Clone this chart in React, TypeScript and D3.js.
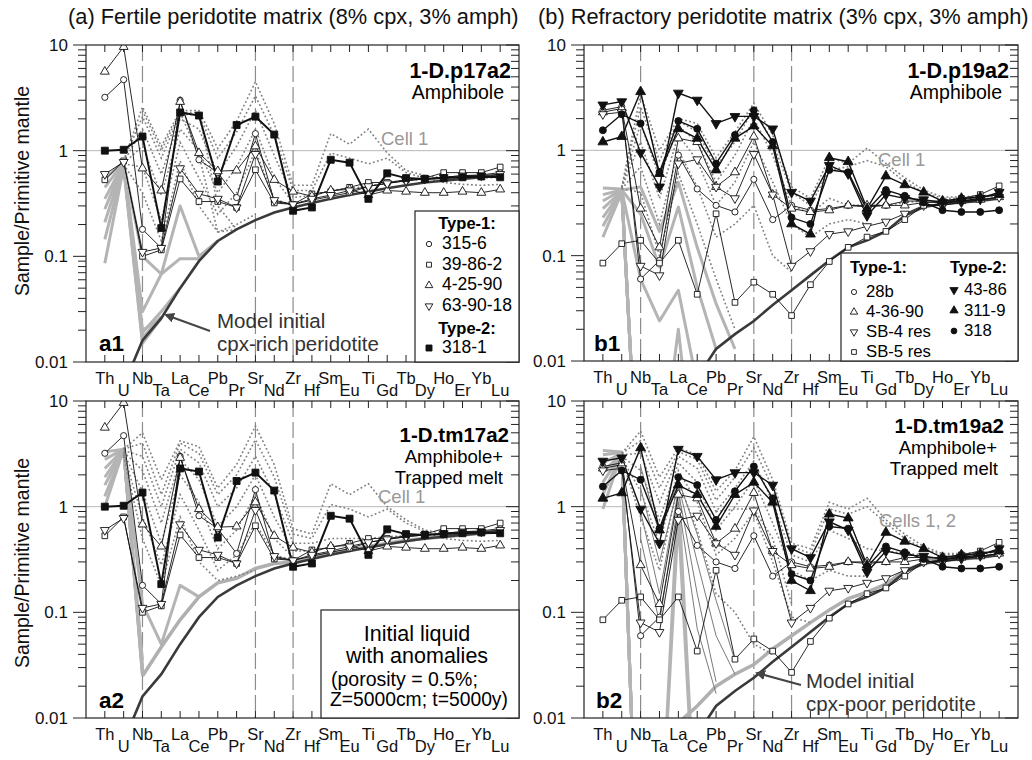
import * as React from 'react'
import * as d3 from 'd3'

const _ = null
type Row = (number | null)[]
type Shape = 'circle' | 'square' | 'triUp' | 'triDown'
type Sample = { name: string; values: Row; shape: Shape; filled: boolean; width: number }

const elements = ['Th', 'U', 'Nb', 'Ta', 'La', 'Ce', 'Pb', 'Pr', 'Sr', 'Nd', 'Zr', 'Hf', 'Sm', 'Eu', 'Ti', 'Gd', 'Tb', 'Dy', 'Ho', 'Er', 'Yb', 'Lu']
const dashedElements = ['Nb', 'Sr', 'Zr']
const yMajor = [0.01, 0.1, 1, 10]
const yMajorLabels = ['0.01', '0.1', '1', '10']

// ---- samples, panel (a)
const s315_6: Row = [3.2, 4.7, 0.18, 0.12, 3.0, 0.82, 0.62, 0.36, 1.45, 0.33, 0.31, 0.34, 0.37, 0.4, 0.46, 0.49, 0.52, 0.54, 0.56, 0.58, 0.59, 0.62]
const s39_86_2: Row = [0.53, 0.8, 0.1, 0.115, 0.54, 0.33, 0.33, 0.29, 0.66, 0.32, 0.31, 0.39, 0.41, 0.45, 0.5, 0.5, 0.53, 0.55, 0.62, 0.62, 0.62, 0.7]
const s4_25_90: Row = [5.6, 9.6, 0.68, 0.42, 2.9, 0.95, 0.64, 0.65, 1.1, 0.53, 0.41, 0.37, 0.42, 0.43, 0.38, 0.42, 0.41, 0.4, 0.4, 0.41, 0.4, 0.43]
const s63_90_18: Row = [0.6, 0.78, 0.11, 0.12, 0.68, 0.39, 0.35, 0.29, 0.93, 0.34, 0.31, 0.35, 0.38, 0.42, 0.46, 0.49, 0.52, 0.54, 0.56, 0.58, 0.58, 0.6]
const s318_1: Row = [1.0, 1.02, 1.36, 0.185, 2.3, 2.15, 0.51, 1.75, 2.1, 1.42, 0.27, 0.29, 0.82, 0.77, 0.35, 0.61, 0.55, 0.54, 0.55, 0.56, 0.57, 0.56]

// ---- samples, panel (b)
const s28b: Row = [2.4, 2.6, 0.06, 0.09, 0.9, 0.43, 0.3, 0.26, 0.53, 0.22, 0.3, 0.27, 0.28, 0.3, 0.29, 0.3, 0.33, 0.33, 0.33, 0.34, 0.36, 0.38]
const s4_36_90: Row = [2.3, 2.5, 0.28, 0.12, 1.3, 1.2, 0.45, 0.62, 1.35, 0.38, 0.28, 0.26, 0.27, 0.3, 0.3, 0.3, 0.3, 0.32, 0.32, 0.33, 0.34, 0.36]
const sSB4: Row = [2.2, 2.3, 0.08, 0.065, 0.75, 0.82, 0.45, 0.35, 0.92, 0.38, 0.08, 0.11, 0.16, 0.17, 0.19, 0.21, 0.25, 0.3, 0.3, 0.32, 0.34, 0.36]
const sSB5: Row = [0.085, 0.13, 0.14, 0.085, 0.14, 0.043, 0.25, 0.036, 0.056, 0.043, 0.027, 0.053, 0.088, 0.12, 0.15, 0.17, 0.22, 0.3, 0.31, 0.35, 0.38, 0.46]
const s43_86: Row = [2.7, 2.9, 0.95, 0.45, 3.5, 3.0, 1.8, 2.1, 2.1, 1.6, 0.4, 0.33, 0.72, 0.6, 0.24, 0.38, 0.35, 0.34, 0.32, 0.33, 0.35, 0.4]
const s311_9: Row = [1.2, 1.35, 3.6, 0.6, 1.6, 1.3, 0.65, 1.3, 1.7, 1.1, 0.2, 0.16, 0.85, 0.78, 0.28, 0.57, 0.47, 0.4, 0.33, 0.35, 0.36, 0.38]
const s318: Row = [1.55, 2.2, 1.8, 0.62, 1.9, 1.6, 0.75, 1.4, 2.4, 1.2, 0.23, 0.2, 0.65, 0.62, 0.27, 0.42, 0.37, 0.32, 0.27, 0.26, 0.26, 0.27]

// ---- model curves
const modelA: Row = [0.002, 0.006, 0.016, 0.026, 0.05, 0.09, 0.14, 0.18, 0.22, 0.26, 0.29, 0.32, 0.35, 0.38, 0.41, 0.44, 0.47, 0.5, 0.52, 0.54, 0.56, 0.58]
const modelA2light: Row = [_, _, 0.025, 0.047, 0.085, 0.14, 0.19, 0.21, 0.26, 0.29, 0.3, 0.33, 0.36, 0.39, 0.42, 0.45, 0.48, 0.5, 0.52, 0.54, 0.56, 0.58]
const modelB: Row = [0.0003, 0.0006, 0.001, 0.002, 0.004, 0.007, 0.013, 0.018, 0.024, 0.034, 0.047, 0.065, 0.09, 0.12, 0.14, 0.17, 0.24, 0.29, 0.31, 0.32, 0.33, 0.35]
const modelB2light: Row = [_, _, _, _, 0.009, 0.013, 0.02, 0.026, 0.032, 0.045, 0.06, 0.08, 0.105, 0.135, 0.155, 0.185, 0.25, 0.29, 0.31, 0.32, 0.33, 0.35]

const grayA1: Row[] = [
  [0.086, 0.7, 0.015, 0.026],
  [0.145, 0.72, 0.016, 0.026],
  [0.21, 0.74, 0.017, 0.027],
  [0.28, 0.75, 0.019, 0.03, 0.05],
  [0.35, 0.76, 0.03, 0.068, 0.095, 0.095, 0.14],
  [0.45, 0.77, 0.1, 0.068, 0.3, 0.1, 0.14],
  [0.54, 0.78, 0.02, 0.026],
]
const dottedA1: Row[] = [
  [_, 0.8, 2.6, 1.1, 2.4, 2.4, 1.05, 1.9, 4.5, 1.8, 0.47, 0.47, 1.45, 1.15, 1.6, 0.95, 0.65, 0.58, 0.55, 0.55, 0.55, 0.56],
  [_, 0.8, 2.1, 0.85, 2.2, 2.2, 0.85, 1.5, 3.3, 1.4, 0.42, 0.42, 0.95, 0.85, 0.75, 0.85, 0.62, 0.55, 0.5, 0.48, 0.47, 0.48],
  [_, 0.78, 1.6, 0.6, 2.0, 1.6, 0.6, 1.1, 2.4, 0.9, 0.36, 0.38, 0.42, 0.44, 0.46, 0.5, 0.52, 0.54, 0.55, 0.56, 0.57, 0.58],
  [_, 0.76, 1.1, 0.38, 1.6, 1.0, 0.4, 0.7, 1.6, 0.55, 0.32, 0.34],
  [_, 0.75, 0.7, 0.22, 1.2, 0.55, 0.25, 0.4, 1.0, 0.35, 0.3],
  [_, 0.74, 0.4, 0.14, 0.8, 0.3, 0.17, 0.2, 0.25],
  [_, _, 2.4, 1.0, 2.3, 2.3, 0.3, 0.18, 0.22],
  [_, _, _, _, 2.3, 0.9, 0.17, 0.18],
]

const grayA2: Row[] = [
  [1.0, 3.5, 0.025],
  [1.25, 3.5, 0.026],
  [1.6, 3.5, 0.027],
  [1.9, 3.5, 0.028],
  [2.3, 3.5, 0.03],
  [2.8, 3.5, 0.035],
  [3.3, 3.5, 0.12, 0.05, 0.18, 0.14],
]
const dottedA2: Row[] = [
  [_, 3.5, 5.0, 1.8, 4.2, 3.7, 1.5, 2.5, 5.8, 2.5, 0.62, 0.55, 1.65, 1.3, 1.65, 1.0, 0.75, 0.6, 0.56, 0.55, 0.56, 0.58],
  [_, 3.5, 4.0, 1.3, 4.0, 3.2, 1.3, 2.0, 4.3, 1.9, 0.55, 0.5, 1.05, 0.95, 0.8, 0.95, 0.7, 0.58, 0.5, 0.48, 0.47, 0.48],
  [_, 3.4, 3.0, 1.0, 3.5, 2.6, 1.0, 1.5, 3.0, 1.3, 0.45, 0.45, 0.5, 0.5, 0.5, 0.52, 0.53, 0.54, 0.55, 0.56, 0.57, 0.58],
  [_, 3.3, 2.2, 0.7, 2.8, 1.8, 0.65, 1.0, 2.0, 0.8, 0.38, 0.38],
  [_, 3.2, 1.4, 0.45, 2.0, 1.1, 0.4, 0.6, 1.3, 0.5, 0.33],
  [_, 3.1, 0.8, 0.28, 1.3, 0.6, 0.25, 0.35, 0.7, 0.35, 0.31],
  [_, 3.0, 0.5, 0.18, 0.8, 0.3, 0.2, 0.22, 0.25],
]

const grayB1: Row[] = [
  [0.15, 0.4, 0.0002],
  [0.19, 0.4, 0.0002],
  [0.23, 0.41, 0.0002],
  [0.28, 0.41, 0.0002],
  [0.33, 0.42, 0.0002],
  [0.38, 0.42, 0.0002],
  [0.44, 0.43, 0.0002],
  [_, 0.42, 0.45, 0.17, 0.5, 0.12, 0.035, 0.013],
  [_, 0.42, 0.25, 0.078, 0.29, 0.05, 0.013],
  [_, 0.42, 0.06, 0.024, 0.047, 0.006],
  [_, _, 0.0005, 0.0008, 0.02, 0.0005],
]
const dottedB1: Row[] = [
  [_, 0.45, 3.4, 1.0, 2.0, 1.8, 0.85, 1.5, 2.8, 1.4, 0.45, 0.35, 0.85, 0.75, 1.05, 0.75, 0.55, 0.42, 0.36, 0.36, 0.37, 0.38],
  [_, 0.45, 2.6, 0.8, 1.9, 1.5, 0.7, 1.2, 2.5, 1.2, 0.4, 0.3, 0.65, 0.7, 0.8, 0.7, 0.5, 0.4, 0.35, 0.35, 0.36, 0.37],
  [_, 0.44, 1.8, 0.55, 1.7, 1.2, 0.5, 0.9, 2.0, 0.9, 0.3, 0.25, 0.35, 0.3, 0.3, 0.3, 0.32, 0.33],
  [_, 0.44, 1.2, 0.35, 1.4, 0.8, 0.3, 0.5, 1.2, 0.5, 0.2, 0.15, 0.2, 0.22, 0.2],
  [_, 0.43, 0.7, 0.2, 1.0, 0.45, 0.15, 0.2, 0.3, 0.1, 0.07],
  [_, 0.43, 0.4, 0.1, 0.6, 0.2, 0.06, 0.02],
]

const grayB2: Row[] = [
  [0.95, 3.2, 0.00005],
  [1.3, 3.2, 0.00005],
  [1.7, 3.2, 0.00005],
  [2.1, 3.2, 0.00005],
  [2.6, 3.2, 0.00005],
  [3.1, 3.25, 0.00005],
  [3.4, 3.3, 0.00005],
  [_, _, 0.0003, 0.0004, 1.4, 0.0005],
  [_, _, 0.0003, 0.0004, 0.8, 0.0004],
]
const grayThinB2: Row[] = [
  [_, _, 2.4, 0.55, 1.8, 0.55, 0.13, 0.035],
  [_, _, 1.5, 0.3, 1.6, 0.3, 0.06, 0.026],
  [_, _, 0.9, 0.15, 1.4, 0.15, 0.022],
  [_, _, 0.5, 0.08, 1.1, 0.07, 0.017],
]
const dottedB2: Row[] = [
  [_, 3.2, 5.2, 1.9, 3.6, 3.1, 1.4, 2.2, 4.6, 1.8, 0.45, 0.4, 1.1, 0.95, 1.2, 0.75, 0.55, 0.42, 0.36, 0.36, 0.37, 0.38],
  [_, 3.2, 4.2, 1.5, 3.3, 2.8, 1.15, 1.9, 3.6, 1.5, 0.42, 0.36, 0.95, 0.85, 1.0, 0.7, 0.5, 0.4, 0.35, 0.35, 0.36, 0.37],
  [_, 3.1, 3.2, 1.1, 3.0, 2.3, 0.9, 1.5, 2.7, 1.1, 0.35, 0.3, 0.6, 0.5, 0.4, 0.38, 0.36, 0.35],
  [_, 3.0, 2.2, 0.75, 2.6, 1.7, 0.6, 1.0, 1.8, 0.7, 0.25, 0.2, 0.25, 0.22, 0.22],
  [_, 2.9, 1.4, 0.45, 2.2, 1.1, 0.35, 0.5, 0.9, 0.3, 0.09, 0.08],
  [_, 2.8, 0.8, 0.25, 1.7, 0.6, 0.15, 0.1, 0.05, 0.04],
  [_, _, _, _, _, _, 0.9, 0.95, 0.95, 0.5, 0.12],
]

const samplesA: Sample[] = [
  { name: '315-6', values: s315_6, shape: 'circle', filled: false, width: 0.9 },
  { name: '39-86-2', values: s39_86_2, shape: 'square', filled: false, width: 0.9 },
  { name: '4-25-90', values: s4_25_90, shape: 'triUp', filled: false, width: 0.9 },
  { name: '63-90-18', values: s63_90_18, shape: 'triDown', filled: false, width: 0.9 },
  { name: '318-1', values: s318_1, shape: 'square', filled: true, width: 2 },
]
const samplesB: Sample[] = [
  { name: '28b', values: s28b, shape: 'circle', filled: false, width: 0.9 },
  { name: '4-36-90', values: s4_36_90, shape: 'triUp', filled: false, width: 0.9 },
  { name: 'SB-4 res', values: sSB4, shape: 'triDown', filled: false, width: 0.9 },
  { name: 'SB-5 res', values: sSB5, shape: 'square', filled: false, width: 0.9 },
  { name: '43-86', values: s43_86, shape: 'triDown', filled: true, width: 1.4 },
  { name: '311-9', values: s311_9, shape: 'triUp', filled: true, width: 1.4 },
  { name: '318', values: s318, shape: 'circle', filled: true, width: 1.4 },
]

const FONT = "'Liberation Sans', Arial, Helvetica, sans-serif"

const Marker = ({ shape, filled, cx, cy, k = 1 }: { shape: Shape; filled: boolean; cx: number; cy: number; k?: number }) => {
  const type = shape === 'circle' ? d3.symbolCircle : shape === 'square' ? d3.symbolSquare : d3.symbolTriangle
  const base = filled ? (shape === 'circle' ? 38 : shape === 'square' ? 48 : 42) : (shape === 'circle' ? 30 : shape === 'square' ? 32 : 34)
  const d = d3.symbol().type(type).size(base * k)() as string
  return (
    <path d={d}
      transform={`translate(${cx},${cy})${shape === 'triDown' ? ' rotate(180)' : ''}`}
      fill={filled ? '#111' : '#fff'} stroke="#111" strokeWidth={0.9} />
  )
}

type PanelProps = {
  id: string; x0: number; x1: number; y0: number; y1: number
  samples: Sample[]; dotted: Row[]; grayThick: Row[]; grayThin?: Row[]
  model: Row; modelLight?: Row
  children?: React.ReactNode
}

const Panel = ({ id, x0, x1, y0, y1, samples, dotted, grayThick, grayThin = [], model, modelLight, children }: PanelProps) => {
  const x = d3.scaleLinear().domain([-1, elements.length]).range([x0, x1])
  const y = d3.scaleLog().domain([0.01, 10]).range([y1, y0])
  const line = d3.line<number | null>()
    .defined(v => v != null)
    .x((d, i) => x(i))
    .y(v => y(v as number))
  const minor = y.ticks().filter(t => !yMajor.some(m => Math.abs(m - t) < 1e-9))

  return (
    <g>
      <defs>
        <clipPath id={`clip-${id}`}><rect x={x0} y={y0} width={x1 - x0} height={y1 - y0} /></clipPath>
      </defs>

      <line x1={x0} x2={x1} y1={y(1)} y2={y(1)} stroke="#b8b8b8" strokeWidth={1} />
      {dashedElements.map(e => (
        <line key={e} x1={x(elements.indexOf(e))} x2={x(elements.indexOf(e))} y1={y0} y2={y1}
          stroke="#8c8c8c" strokeWidth={1.2} strokeDasharray="16,5" />
      ))}

      {yMajor.map((t, i) => (
        <g key={t}>
          <line x1={x0 - 13} x2={x0} y1={y(t)} y2={y(t)} stroke="#222" />
          <line x1={x1 - 13} x2={x1} y1={y(t)} y2={y(t)} stroke="#222" />
          <text x={x0 - 18} y={y(t) + 6} fontSize={17} textAnchor="end" fill="#111">{yMajorLabels[i]}</text>
        </g>
      ))}
      {minor.map(t => (
        <g key={t}>
          <line x1={x0 - 8} x2={x0} y1={y(t)} y2={y(t)} stroke="#222" />
          <line x1={x1 - 8} x2={x1} y1={y(t)} y2={y(t)} stroke="#222" />
        </g>
      ))}

      {elements.map((e, i) => (
        <g key={e}>
          <line x1={x(i)} x2={x(i)} y1={y0} y2={y0 + 7} stroke="#222" />
          <line x1={x(i)} x2={x(i)} y1={y1} y2={y1 - 7} stroke="#222" />
          <text x={x(i)} y={y1 + (i % 2 === 0 ? 22 : 34)} fontSize={16.5} textAnchor="middle" fill="#111">{e}</text>
        </g>
      ))}

      <g clipPath={`url(#clip-${id})`}>
        {grayThick.map((r, i) => (
          <path key={'g' + i} d={line(r) as string} fill="none" stroke="#b4b4b4" strokeWidth={3} strokeLinejoin="round" />
        ))}
        {modelLight && <path d={line(modelLight) as string} fill="none" stroke="#b0b0b0" strokeWidth={3.5} />}
        {grayThin.map((r, i) => (
          <path key={'t' + i} d={line(r) as string} fill="none" stroke="#7a7a7a" strokeWidth={1} />
        ))}
        {dotted.map((r, i) => (
          <path key={'d' + i} d={line(r) as string} fill="none" stroke="#808080" strokeWidth={1.6} strokeDasharray="1.8,2.4" />
        ))}
        <path d={line(model) as string} fill="none" stroke="#3a3a3a" strokeWidth={2.6} />
        {samples.map(s => (
          <path key={s.name} d={line(s.values) as string} fill="none" stroke="#111" strokeWidth={s.width} />
        ))}
        {samples.map(s => s.values.map((v, i) => v == null ? null : (
          <Marker key={s.name + i} shape={s.shape} filled={s.filled} cx={x(i)} cy={y(v)} />
        )))}
      </g>

      <rect x={x0} y={y0} width={x1 - x0} height={y1 - y0} fill="none" stroke="#222" strokeWidth={1.2} />
      {children}
    </g>
  )
}

const Arrow = ({ x1, y1, x2, y2 }: { x1: number; y1: number; x2: number; y2: number }) => (
  <line x1={x1} y1={y1} x2={x2} y2={y2} stroke="#444" strokeWidth={2} markerEnd="url(#arrowhead)" />
)

export default function App() {
  const a = samplesA
  const b = samplesB
  return (
    <svg width={1032} height={760} fontFamily={FONT}
      style={{ position: 'absolute', left: 0, top: 0, display: 'block', background: '#fff' }}>
      <defs>
        <marker id="arrowhead" viewBox="0 0 10 10" refX="8" refY="5" markerWidth="5" markerHeight="5" orient="auto">
          <path d="M0,0 L10,5 L0,10 z" fill="#444" />
        </marker>
      </defs>
      <rect width={1032} height={760} fill="#fff" />

      <text x={68} y={24} fontSize={21.8} fill="#111">(a)  Fertile peridotite matrix (8% cpx, 3% amph)</text>
      <text x={538} y={24} fontSize={21.8} fill="#111">(b)  Refractory peridotite matrix (3% cpx, 3% amph)</text>
      <text transform="translate(29,191) rotate(-90)" textAnchor="middle" fontSize={19.5} fill="#111">Sample/Primitive mantle</text>
      <text transform="translate(29,563) rotate(-90)" textAnchor="middle" fontSize={19.5} fill="#111">Sample/Primitive mantle</text>

      {/* a1 */}
      <Panel id="a1" x0={86} x1={519} y0={45} y1={362} samples={a} dotted={dottedA1} grayThick={grayA1} model={modelA}>
        <text x={511} y={78} fontSize={21.5} fontWeight="bold" textAnchor="end">1-D.p17a2</text>
        <text x={504} y={99} fontSize={19.5} textAnchor="end">Amphibole</text>
        <text x={381} y={145} fontSize={18.5} fill="#999">Cell 1</text>
        <text x={99} y={351} fontSize={22.5} fontWeight="bold">a1</text>
        <text x={217} y={328} fontSize={20.5} fill="#333">Model initial</text>
        <text x={217} y={351} fontSize={20.5} fill="#333">cpx-rich peridotite</text>
        <Arrow x1={210} y1={331} x2={166} y2={315} />
        <rect x={415} y={211} width={104} height={151} fill="#fff" stroke="#222" strokeWidth={1.2} />
        <text x={467} y={229} fontSize={16.5} fontWeight="bold" textAnchor="middle">Type-1:</text>
        {a.slice(0, 4).map((s, i) => (
          <g key={s.name}>
            <Marker shape={s.shape} filled={s.filled} cx={429} cy={244 + i * 20.7} k={0.75} />
            <text x={442} y={249 + i * 20.7} fontSize={17.5}>{s.name}</text>
          </g>
        ))}
        <text x={467} y={334} fontSize={16.5} fontWeight="bold" textAnchor="middle">Type-2:</text>
        <Marker shape={a[4].shape} filled cx={429} cy={348} k={0.75} />
        <text x={442} y={353} fontSize={17.5}>{a[4].name}</text>
      </Panel>

      {/* b1 */}
      <Panel id="b1" x0={584} x1={1018} y0={45} y1={361} samples={b} dotted={dottedB1} grayThick={grayB1} model={modelB}>
        <text x={1009} y={78} fontSize={21.5} fontWeight="bold" textAnchor="end">1-D.p19a2</text>
        <text x={1002} y={99} fontSize={19.5} textAnchor="end">Amphibole</text>
        <text x={878} y={166} fontSize={18.5} fill="#999">Cell 1</text>
        <text x={594} y={351} fontSize={22.5} fontWeight="bold">b1</text>
        <rect x={841} y={253} width={177} height={108} fill="#fff" stroke="#222" strokeWidth={1.2} />
        <text x={850} y={273} fontSize={16.4} fontWeight="bold">Type-1:</text>
        {b.slice(0, 4).map((s, i) => (
          <g key={s.name}>
            <Marker shape={s.shape} filled={s.filled} cx={854} cy={292 + i * 20} k={0.7} />
            <text x={866} y={297 + i * 20} fontSize={16.7}>{s.name}</text>
          </g>
        ))}
        <text x={950} y={273} fontSize={16.4} fontWeight="bold">Type-2:</text>
        {b.slice(4).map((s, i) => (
          <g key={s.name}>
            <Marker shape={s.shape} filled={s.filled} cx={954} cy={290 + i * 20.5} k={0.7} />
            <text x={964} y={295 + i * 20.5} fontSize={16.7}>{s.name}</text>
          </g>
        ))}
      </Panel>

      {/* a2 */}
      <Panel id="a2" x0={86} x1={519} y0={401} y1={718} samples={a} dotted={dottedA2} grayThick={grayA2} model={modelA} modelLight={modelA2light}>
        <text x={509} y={442} fontSize={20.5} fontWeight="bold" textAnchor="end">1-D.tm17a2</text>
        <text x={503} y={463} fontSize={18.5} textAnchor="end">Amphibole+</text>
        <text x={503} y={484} fontSize={18.5} textAnchor="end">Trapped melt</text>
        <text x={378} y={503} fontSize={18.5} fill="#999">Cell 1</text>
        <text x={99} y={708} fontSize={22.5} fontWeight="bold">a2</text>
        <rect x={321} y={610} width={198} height={108} fill="#fff" stroke="#222" strokeWidth={1.2} />
        <text x={417} y={641} fontSize={21.5} textAnchor="middle">Initial liquid</text>
        <text x={417} y={663} fontSize={21.5} textAnchor="middle">with anomalies</text>
        <text x={331} y={686} fontSize={19.5}>(porosity = 0.5%;</text>
        <text x={330} y={706} fontSize={19.3}>Z=5000cm; t=5000y)</text>
      </Panel>

      {/* b2 */}
      <Panel id="b2" x0={584} x1={1018} y0={401} y1={718} samples={b} dotted={dottedB2} grayThick={grayB2} grayThin={grayThinB2} model={modelB} modelLight={modelB2light}>
        <text x={1004} y={433} fontSize={20.5} fontWeight="bold" textAnchor="end">1-D.tm19a2</text>
        <text x={997} y={454} fontSize={18.5} textAnchor="end">Amphibole+</text>
        <text x={998} y={475} fontSize={18.5} textAnchor="end">Trapped melt</text>
        <text x={879} y={527} fontSize={18.5} fill="#999">Cells 1, 2</text>
        <text x={596} y={708} fontSize={22.5} fontWeight="bold">b2</text>
        <text x={806} y={688} fontSize={20.5} fill="#333">Model initial</text>
        <text x={806} y={711} fontSize={20.5} fill="#333">cpx-poor peridotite</text>
        <Arrow x1={801} y1={685} x2={757} y2={673} />
      </Panel>
    </svg>
  )
}
